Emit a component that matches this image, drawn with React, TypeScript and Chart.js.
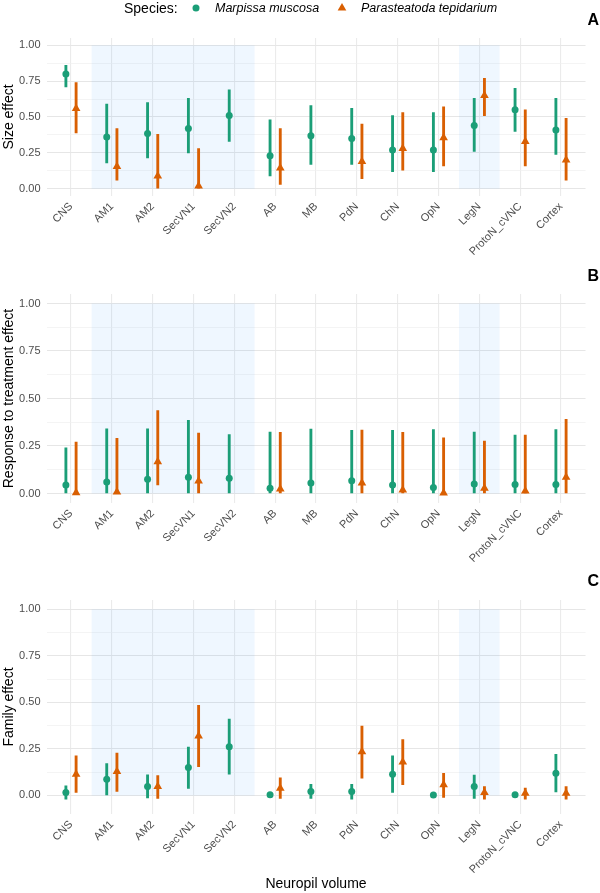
import React, { useEffect, useRef } from 'react';
import { Chart, registerables } from 'chart.js';

Chart.register(...registerables);

// ---------- data ----------
const categories = ['CNS', 'AM1', 'AM2', 'SecVN1', 'SecVN2', 'AB', 'MB', 'PdN', 'ChN', 'OpN', 'LegN', 'ProtoN_cVNC', 'Cortex'];
const shadedGroups: [string, string][] = [['AM1', 'SecVN2'], ['LegN', 'LegN']];
const speciesNames = ['Marpissa muscosa', 'Parasteatoda tepidarium'];
const yTickValues = [0, 0.125, 0.25, 0.375, 0.5, 0.625, 0.75, 0.875, 1];

// Panel A: Size effect
const mmSize = [0.80, 0.36, 0.385, 0.42, 0.51, 0.23, 0.37, 0.35, 0.27, 0.27, 0.44, 0.55, 0.41];
const mmSizeLo = [0.71, 0.18, 0.215, 0.25, 0.33, 0.09, 0.17, 0.17, 0.12, 0.12, 0.26, 0.40, 0.24];
const mmSizeHi = [0.86, 0.59, 0.60, 0.63, 0.69, 0.48, 0.58, 0.56, 0.51, 0.53, 0.63, 0.70, 0.63];
const ptSize = [0.56, 0.155, 0.09, 0.02, null, 0.145, null, 0.19, 0.28, 0.355, 0.65, 0.33, 0.20];
const ptSizeLo = [0.39, 0.06, 0.0, 0.0, null, 0.03, null, 0.07, 0.13, 0.16, 0.51, 0.16, 0.06];
const ptSizeHi = [0.74, 0.42, 0.38, 0.28, null, 0.42, null, 0.45, 0.53, 0.57, 0.77, 0.55, 0.49];

// Panel B: Response to treatment effect
const mmResp = [0.045, 0.06, 0.075, 0.085, 0.08, 0.027, 0.055, 0.067, 0.045, 0.031, 0.05, 0.048, 0.048];
const mmRespLo = [0, 0, 0, 0, 0, 0, 0, 0, 0, 0, 0, 0, 0];
const mmRespHi = [0.24, 0.34, 0.34, 0.385, 0.31, 0.323, 0.339, 0.332, 0.332, 0.336, 0.323, 0.307, 0.337];
const ptResp = [0.004, 0.008, 0.167, 0.066, null, 0.024, null, 0.055, 0.018, 0.003, 0.027, 0.013, 0.085];
const ptRespLo = [0, 0, 0.045, 0, null, 0, null, 0, 0, 0, 0, 0, 0];
const ptRespHi = [0.271, 0.29, 0.437, 0.318, null, 0.322, null, 0.334, 0.322, 0.293, 0.276, 0.307, 0.39];

// Panel C: Family effect
const mmFam = [0.016, 0.087, 0.048, 0.15, 0.262, 0.003, 0.021, 0.021, 0.114, 0.002, 0.048, 0.003, 0.119];
const mmFamLo = [-0.02, 0.002, -0.014, 0.037, 0.114, 0.003, -0.016, -0.02, 0.016, 0.002, -0.016, 0.003, 0.019];
const mmFamHi = [0.051, 0.171, 0.11, 0.26, 0.41, 0.003, 0.059, 0.059, 0.212, 0.002, 0.109, 0.003, 0.22];
const ptFam = [0.114, 0.128, 0.048, 0.319, null, 0.039, null, 0.234, 0.18, 0.057, 0.016, 0.012, 0.012];
const ptFamLo = [0.016, 0.021, -0.016, 0.155, null, -0.016, null, 0.093, 0.057, -0.011, -0.02, -0.02, -0.02];
const ptFamHi = [0.212, 0.228, 0.107, 0.484, null, 0.094, null, 0.373, 0.30, 0.119, 0.048, 0.039, 0.048];

// ---------- styles ----------
const GREEN = '#1B9E77';
const ORANGE = '#D95F02';
const SHADE = 'rgba(30,144,255,0.07)';
const FONT = "'Liberation Sans', Arial, Helvetica, sans-serif";
const DODGE = 0.125;

type Panel = {
  top: number; height: number; padTop: number; xAxisH: number;
  yMin: number; yMax: number; yTitle: string; letter: string; letterY: number;
  xTitle: boolean; legend: boolean;
  mm: (number | null)[]; mmLo: (number | null)[]; mmHi: (number | null)[];
  pt: (number | null)[]; ptLo: (number | null)[]; ptHi: (number | null)[];
};

const panels: Panel[] = [
  { top: 0, height: 280, padTop: 38, xAxisH: 84, yMin: -0.05, yMax: 1.05, yTitle: 'Size effect', letter: 'A', letterY: 21, xTitle: false, legend: true,
    mm: mmSize, mmLo: mmSizeLo, mmHi: mmSizeHi, pt: ptSize, ptLo: ptSizeLo, ptHi: ptSizeHi },
  { top: 265, height: 305, padTop: 29, xAxisH: 67, yMin: -0.05, yMax: 1.05, yTitle: 'Response to treatment effect', letter: 'B', letterY: 12, xTitle: false, legend: false,
    mm: mmResp, mmLo: mmRespLo, mmHi: mmRespHi, pt: ptResp, ptLo: ptRespLo, ptHi: ptRespHi },
  { top: 570, height: 323, padTop: 30, xAxisH: 79, yMin: -0.1, yMax: 1.05, yTitle: 'Family effect', letter: 'C', letterY: 12, xTitle: true, legend: false,
    mm: mmFam, mmLo: mmFamLo, mmHi: mmFamHi, pt: ptFam, ptLo: ptFamLo, ptHi: ptFamHi },
];

const pts = (vals: (number | null)[], off: number) =>
  vals.map((v, i) => (v == null ? null : { x: i + 1 + off, y: v })).filter(Boolean) as any[];
const bars = (lo: (number | null)[], hi: (number | null)[], off: number) =>
  lo.map((l, i) => (l == null || hi[i] == null ? null : { x: i + 1 + off, y: [l, hi[i]] })).filter(Boolean) as any[];

function makeChart(canvas: HTMLCanvasElement, p: Panel) {
  const idx = (c: string) => categories.indexOf(c) + 1;
  const shadeSets = shadedGroups.map(([a, b]) => ({
    type: 'line' as const,
    data: [{ x: idx(a) - 0.5, y: 1 }, { x: idx(b) + 0.5, y: 1 }],
    fill: 'origin',
    backgroundColor: SHADE,
    borderWidth: 0,
    borderColor: 'rgba(0,0,0,0)',
    pointRadius: 0,
    order: 10,
  }));

  const decor = {
    id: 'decor',
    afterDraw(chart: any) {
      const ctx = chart.ctx as CanvasRenderingContext2D;
      ctx.save();
      ctx.fillStyle = '#000';
      ctx.font = `bold 16px ${FONT}`;
      ctx.textAlign = 'right';
      ctx.textBaseline = 'middle';
      ctx.fillText(p.letter, 599, p.letterY);
      if (p.legend) {
        const ly = 9;
        ctx.textAlign = 'left';
        ctx.font = `14px ${FONT}`;
        ctx.fillStyle = '#000';
        ctx.fillText('Species:', 124, ly);
        ctx.fillStyle = GREEN;
        ctx.beginPath();
        ctx.arc(196, ly - 1, 3.5, 0, Math.PI * 2);
        ctx.fill();
        ctx.fillStyle = '#000';
        ctx.font = `italic 12.5px ${FONT}`;
        ctx.fillText(speciesNames[0], 215, ly);
        ctx.fillStyle = ORANGE;
        const r = 5, cx = 342, cy = ly - 1;
        ctx.beginPath();
        ctx.moveTo(cx, cy - r);
        ctx.lineTo(cx + r * 0.866, cy + r / 2);
        ctx.lineTo(cx - r * 0.866, cy + r / 2);
        ctx.closePath();
        ctx.fill();
        ctx.fillStyle = '#000';
        ctx.fillText(speciesNames[1], 361, ly);
      }
      ctx.restore();
    },
  };

  const isMajor = (v: number) => Math.abs(v * 4 - Math.round(v * 4)) < 1e-9;

  return new Chart(canvas, {
    type: 'scatter',
    data: {
      datasets: [
        ...shadeSets,
        { type: 'bar', label: speciesNames[0] + ' CI', data: bars(p.mmLo, p.mmHi, -DODGE), backgroundColor: GREEN, barThickness: 2.2, grouped: false, borderWidth: 0, order: 5 },
        { type: 'bar', label: speciesNames[1] + ' CI', data: bars(p.ptLo, p.ptHi, DODGE), backgroundColor: ORANGE, barThickness: 2.2, grouped: false, borderWidth: 0, order: 5 },
        { type: 'scatter', label: speciesNames[0], data: pts(p.mm, -DODGE), pointStyle: 'circle', pointRadius: 3.5, backgroundColor: GREEN, borderWidth: 0, order: 1 },
        { type: 'scatter', label: speciesNames[1], data: pts(p.pt, DODGE), pointStyle: 'triangle', pointRadius: 5, backgroundColor: ORANGE, borderWidth: 0, order: 1 },
      ] as any,
    },
    options: {
      animation: false,
      responsive: false,
      events: [],
      layout: { padding: { top: p.padTop, right: 14.5, left: 0, bottom: 0 } },
      plugins: { legend: { display: false }, tooltip: { enabled: false } },
      scales: {
        x: {
          type: 'linear',
          min: 0.4,
          max: 13.6,
          offset: false,
          afterBuildTicks: (s: any) => { s.ticks = categories.map((_, i) => ({ value: i + 1 })); },
          afterFit: (s: any) => { s.height = p.xAxisH; },
          ticks: {
            autoSkip: false, minRotation: 45, maxRotation: 45, padding: 4,
            color: '#4D4D4D', font: { size: 11, family: FONT },
            callback: (v: any) => categories[Math.round(Number(v)) - 1] ?? '',
          },
          grid: { color: '#EBEBEB', lineWidth: 1.1, drawTicks: false, offset: false },
          border: { display: false },
          title: { display: p.xTitle, text: 'Neuropil volume', color: '#000', font: { size: 14, family: FONT }, padding: 0 },
        },
        y: {
          type: 'linear',
          min: p.yMin,
          max: p.yMax,
          afterBuildTicks: (s: any) => { s.ticks = yTickValues.map((v) => ({ value: v })); },
          afterFit: (s: any) => { s.width = 46.5; },
          ticks: {
            autoSkip: false, padding: 6, color: '#4D4D4D', font: { size: 11, family: FONT },
            callback: (v: any) => (isMajor(Number(v)) ? Number(v).toFixed(2) : ''),
          },
          grid: {
            drawTicks: false,
            color: (c: any) => (c.tick && isMajor(c.tick.value) ? '#E6E6E6' : '#EFEFEF'),
            lineWidth: (c: any) => (c.tick && isMajor(c.tick.value) ? 1.1 : 0.7),
          },
          border: { display: false },
          title: { display: true, text: p.yTitle, color: '#000', font: { size: 14, family: FONT }, padding: { top: 1, bottom: 0 } },
        },
      },
    } as any,
    plugins: [decor],
  });
}

function Panel({ p }: { p: Panel }) {
  const ref = useRef<HTMLCanvasElement>(null);
  useEffect(() => {
    if (!ref.current) return;
    const chart = makeChart(ref.current, p);
    return () => chart.destroy();
  }, [p]);
  return (
    <canvas
      ref={ref}
      width={600}
      height={p.height}
      style={{ position: 'absolute', left: 0, top: p.top, width: 600, height: p.height }}
    />
  );
}

export default function App() {
  return (
    <div style={{ position: 'absolute', left: 0, top: 0, width: 600, height: 893, background: '#fff', overflow: 'hidden' }}>
      {panels.map((p) => (
        <Panel key={p.letter} p={p} />
      ))}
    </div>
  );
}
